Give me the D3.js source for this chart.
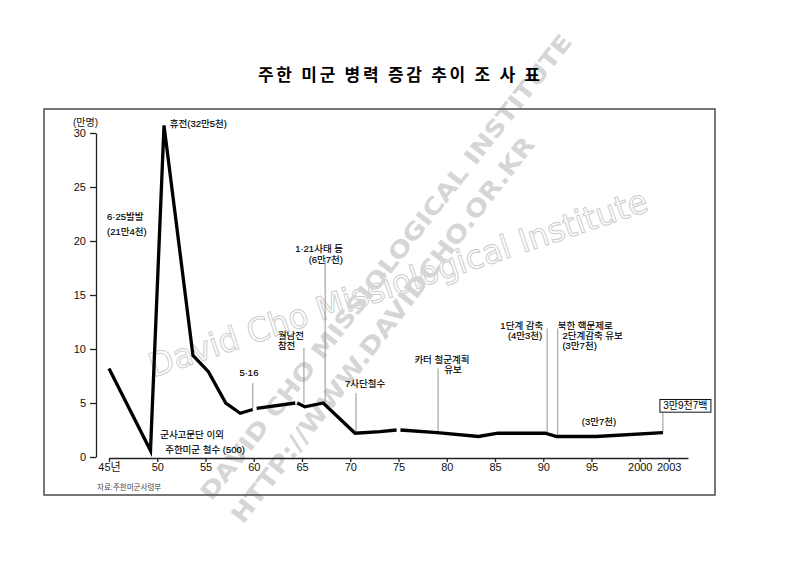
<!DOCTYPE html>
<html><head><meta charset="utf-8">
<script src="https://cdn.jsdelivr.net/npm/d3@7"></script>
<style>
html,body{margin:0;padding:0;background:#fff;}
svg{display:block;}
</style></head>
<body>
<script>
// ---- data ----
const years  = [1945, 1949.3, 1950.7, 1953.7, 1955.3, 1957.1, 1958.6, 1959.9, 1960.1, 1960.3, 1964.3, 1964.4, 1964.5, 1965.3, 1967.2, 1970.5, 1973.1, 1974.8, 1975.0, 1975.2, 1979.0, 1983.3, 1985.3, 1990.2, 1991.4, 1995.5, 2002.4];
const troops = [8.2,  0.6,    30.7,   9.4,    7.9,    5.0,    4.05,   4.4,    null,   4.5,    5.0,    null,   5.0,    4.65,   5.0,    2.2,    2.35,   2.5,    null,   2.5,    2.25,   1.9,    2.2,    2.2,    1.9,    1.9,    2.25];
const yTicks = [0, 5, 10, 15, 20, 25, 30];
const xTicks = [1945, 1950, 1955, 1960, 1965, 1970, 1975, 1980, 1985, 1990, 1995, 2000, 2003];
const xTickLabels = ["45년", "50", "55", "60", "65", "70", "75", "80", "85", "90", "95", "2000", "2003"];
// event guide lines: year, value at line bottom, value at line top
const eventYears = [1959.9, 1965.2, 1967.4, 1970.6, 1979.1, 1990.4, 1991.5, 2002.4];
const eventLow   = [4.5,    5.0,    5.1,    2.3,    2.25,   2.2,    1.9,    2.25];
const eventHigh  = [6.85,   10.1,   18.2,   5.9,    8.2,    11.9,   11.9,   4.15];
// annotation texts (lines), position of first line (year, value), anchor
const noteLines  = [["휴전(32만5천)"], ["6·25발발", "(21만4천)"], ["5·16"], ["월남전", "참전"], ["1·21사태 등", "(6만7천)"], ["7사단철수"], ["카터 철군계획", "유보"], ["1단계 감축", "(4만3천)"], ["북한 핵문제로", "2단계감축 유보", "(3만7천)"], ["(3만7천)"], ["군사고문단 이외", "주한미군 철수 (500)"]];
const noteYears  = [1951.3, 1944.8, 1959.5, 1962.5, 1969.25, 1969.45, 1979.5, 1990.0, 1991.5, 1994.0, 1950.3];
const noteValues = [30.6,   21.9,   7.5,    10.97,  18.98,   6.44,    8.7,    11.81,  11.81,  2.96,   1.74];
const noteAnchor = ["start","start","middle","start","end","start","middle","end","start","start","start"];
// per-line horizontal shifts (px) and line gap (px)
const noteShift  = [[0], [0, 0], [0], [0, 0], [0, 0], [0], [0, 11], [0, -1], [0, 4.7, 4.7], [0], [0, 5]];
const noteGap    = [0, 14.5, 0, 10.5, 10.5, 0, 10, 10, 9.8, 0, 15];
const finalLabel = "3만9천7백";
const title = "주한 미군 병력 증감 추이 조 사 표";
const unitLabel = "(만명)";
const source = "자료:주한미군사령부";

const W = 800, H = 565;
const svg = d3.select("body").append("svg").attr("width", W).attr("height", H);

const x = d3.scaleLinear().domain([1945, 2005]).range([109, 688]);
const y = d3.scaleLinear().domain([0, 30]).range([457, 133]);

const KR = "'Liberation Sans', 'Noto Sans CJK KR', sans-serif";
const LAT = "'Liberation Sans', Arial, sans-serif";

// ---- watermark ----
const wm = svg.append("g").attr("pointer-events", "none");
wm.append("text")
  .attr("transform", "translate(398,283) rotate(-18.6)")
  .attr("text-anchor", "middle").attr("dominant-baseline", "central")
  .attr("font-family", "'DejaVu Sans', sans-serif").attr("font-size", 33)
  .attr("textLength", 524).attr("lengthAdjust", "spacingAndGlyphs")
  .attr("fill", "none").attr("stroke", "#cdcdcd").attr("stroke-width", 1)
  .text("David Cho Missiological Institute");
wm.append("text")
  .attr("transform", "translate(386,267) rotate(-51.8)")
  .attr("text-anchor", "middle").attr("dominant-baseline", "central")
  .attr("font-family", "'DejaVu Sans', sans-serif").attr("font-weight", "bold").attr("font-size", 23)
  .attr("textLength", 585).attr("lengthAdjust", "spacingAndGlyphs")
  .attr("fill", "#d6d6d6")
  .text("DAVID CHO MISSIOLOGICAL INSTITUTE");
wm.append("text")
  .attr("transform", "translate(383,330) rotate(-52.4)")
  .attr("text-anchor", "middle").attr("dominant-baseline", "central")
  .attr("font-family", "'DejaVu Sans', sans-serif").attr("font-weight", "bold").attr("font-size", 24)
  .attr("textLength", 480).attr("lengthAdjust", "spacingAndGlyphs")
  .attr("fill", "#d6d6d6")
  .text("HTTP://WWW.DAVIDCHO.OR.KR");

// ---- title ----
svg.append("text")
  .attr("x", 399).attr("y", 81).attr("text-anchor", "middle")
  .attr("font-family", "'Noto Sans CJK KR', sans-serif").attr("font-weight", 700).attr("font-size", 17)
  .attr("textLength", 282).attr("lengthAdjust", "spacing")
  .attr("fill", "#000").text(title);

// ---- frame ----
svg.append("rect").attr("x", 44).attr("y", 109).attr("width", 671).attr("height", 386)
  .attr("fill", "none").attr("stroke", "#555").attr("stroke-width", 1.6);

// ---- axes ----
const yAxis = svg.append("g").attr("transform", "translate(96,0)")
  .call(d3.axisLeft(y).tickValues(yTicks).tickSize(6).tickSizeOuter(0).tickPadding(4));
const xAxis = svg.append("g").attr("transform", `translate(0,${y(0) + 1})`)
  .call(d3.axisBottom(x).tickValues(xTicks).tickSize(4).tickSizeOuter(0).tickPadding(1)
    .tickFormat((d, i) => xTickLabels[i]));
[yAxis, xAxis].forEach(g => {
  g.selectAll("path,line").attr("stroke", "#222").attr("stroke-width", 1.3);
  g.selectAll("text").attr("font-family", KR).attr("font-size", 11).attr("fill", "#111");
});

svg.append("text").attr("x", 73).attr("y", 126)
  .attr("font-family", KR).attr("font-size", 10).attr("fill", "#111").text(unitLabel);

// ---- guide lines ----
svg.append("g").selectAll("line").data(eventYears).join("line")
  .attr("x1", d => x(d)).attr("x2", d => x(d))
  .attr("y1", (d, i) => y(eventLow[i])).attr("y2", (d, i) => y(eventHigh[i]))
  .attr("stroke", "#888").attr("stroke-width", 0.9);

// ---- main line ----
const pts = years.map((d, i) => [d, troops[i]]);
const line = d3.line().defined(d => d[1] !== null).x(d => x(d[0])).y(d => y(d[1]));
svg.append("path").datum(pts).attr("d", line)
  .attr("fill", "none").attr("stroke", "#000").attr("stroke-width", 3.3)
  .attr("stroke-linejoin", "miter").attr("stroke-linecap", "butt");

// ---- notes ----
const notes = svg.append("g").selectAll("text").data(noteLines).join("text")
  .attr("text-anchor", (d, i) => noteAnchor[i])
  .attr("font-family", KR).attr("font-size", 9.5).attr("fill", "#000")
  .attr("stroke", "#000").attr("stroke-width", 0.15);
notes.each(function (lines, i) {
  const t = d3.select(this);
  const x0 = x(noteYears[i]), y0 = y(noteValues[i]);
  lines.forEach((s, j) => {
    t.append("tspan").attr("x", x0 + noteShift[i][j]).attr("y", y0 + j * noteGap[i]).text(s);
  });
});

// final boxed label
const lastI = eventYears.length - 1;
const bx = x(eventYears[lastI]) - 3, by = y(eventHigh[lastI]) - 12.7;
svg.append("rect").attr("x", bx).attr("y", by).attr("width", 51).attr("height", 12.7)
  .attr("fill", "#fff").attr("stroke", "#111").attr("stroke-width", 1);
svg.append("text").attr("x", bx + 25.5).attr("y", by + 10)
  .attr("text-anchor", "middle").attr("font-family", KR).attr("font-size", 10)
  .attr("fill", "#000").text(finalLabel);

// source
svg.append("text").attr("x", 97).attr("y", 489.5)
  .attr("font-family", KR).attr("font-size", 7.5).attr("fill", "#444").text(source);
</script>
</body></html>
